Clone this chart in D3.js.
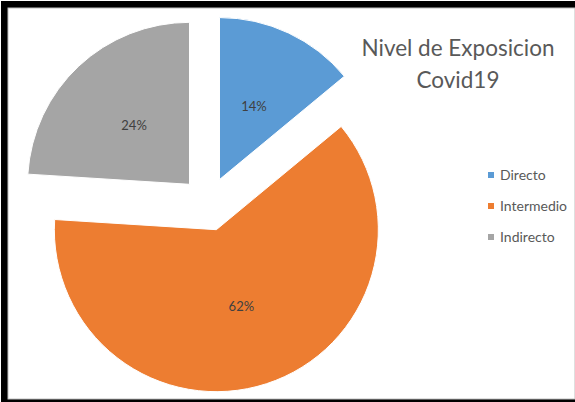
<!DOCTYPE html>
<html>
<head>
<meta charset="utf-8">
<script src="https://cdn.jsdelivr.net/npm/d3@7"></script>
<style>
  html, body { margin: 0; padding: 0; background: #fff; }
  svg { display: block; }
</style>
</head>
<body>
<svg id="chart" width="575" height="402"></svg>
<script>
const categories = ["Directo", "Intermedio", "Indirecto"];
const values = [14, 62, 24];
const labels = ["14%", "62%", "24%"];
const colors = ["#5B9BD5", "#ED7D31", "#A5A5A5"];
const titleLines = ["Nivel de Exposicion", "Covid19"];

const svg = d3.select("#chart");
const W = 575, H = 402;
const font = "Lato, 'Open Sans', sans-serif";

// Frame
svg.append("rect").attr("x", 1).attr("y", 1).attr("width", W).attr("height", H)
  .attr("fill", "#000");
svg.append("rect").attr("x", 8).attr("y", 8).attr("width", W - 8).attr("height", 391)
  .attr("fill", "#fff").attr("stroke", "#bfbfbf").attr("stroke-width", 1);

// Pie
const cx = 208, cy = 204, r = 162, explode = 27;
const pie = d3.pie().sort(null).value(d => d)(values);
const arc = d3.arc().innerRadius(0).outerRadius(r);
const g = svg.append("g").attr("transform", `translate(${cx},${cy})`);

const slices = g.selectAll("g.slice").data(pie).enter().append("g")
  .attr("class", "slice")
  .attr("transform", d => {
    const a = (d.startAngle + d.endAngle) / 2;
    return `translate(${Math.sin(a) * explode},${-Math.cos(a) * explode})`;
  });

slices.append("path")
  .attr("d", arc)
  .attr("fill", (d, i) => colors[i])
  .attr("stroke", "#fff")
  .attr("stroke-width", 1);

slices.append("text")
  .attr("transform", d => `translate(${arc.centroid(d)})`)
  .attr("text-anchor", "middle")
  .attr("dy", "0.35em")
  .attr("font-family", font)
  .attr("font-size", 13)
  .attr("fill", "#404040")
  .text((d, i) => labels[i]);

// Title
svg.append("text")
  .attr("x", 458).attr("y", 56)
  .attr("text-anchor", "middle")
  .attr("font-family", font)
  .attr("font-size", 22.5)
  .attr("fill", "#595959")
  .selectAll("tspan").data(titleLines).enter().append("tspan")
  .attr("x", 458)
  .attr("dy", (d, i) => i === 0 ? 0 : 32)
  .text(d => d);

// Legend
const legend = svg.append("g").attr("transform", "translate(488,175)");
const items = legend.selectAll("g").data(categories).enter().append("g")
  .attr("transform", (d, i) => `translate(0,${i * 31})`);
items.append("rect").attr("x", 0).attr("y", -3).attr("width", 6).attr("height", 6)
  .attr("fill", (d, i) => colors[i]);
items.append("text").attr("x", 12).attr("y", 0).attr("dy", "0.35em")
  .attr("font-family", font).attr("font-size", 14).attr("fill", "#595959")
  .text(d => d);
</script>
</body>
</html>
